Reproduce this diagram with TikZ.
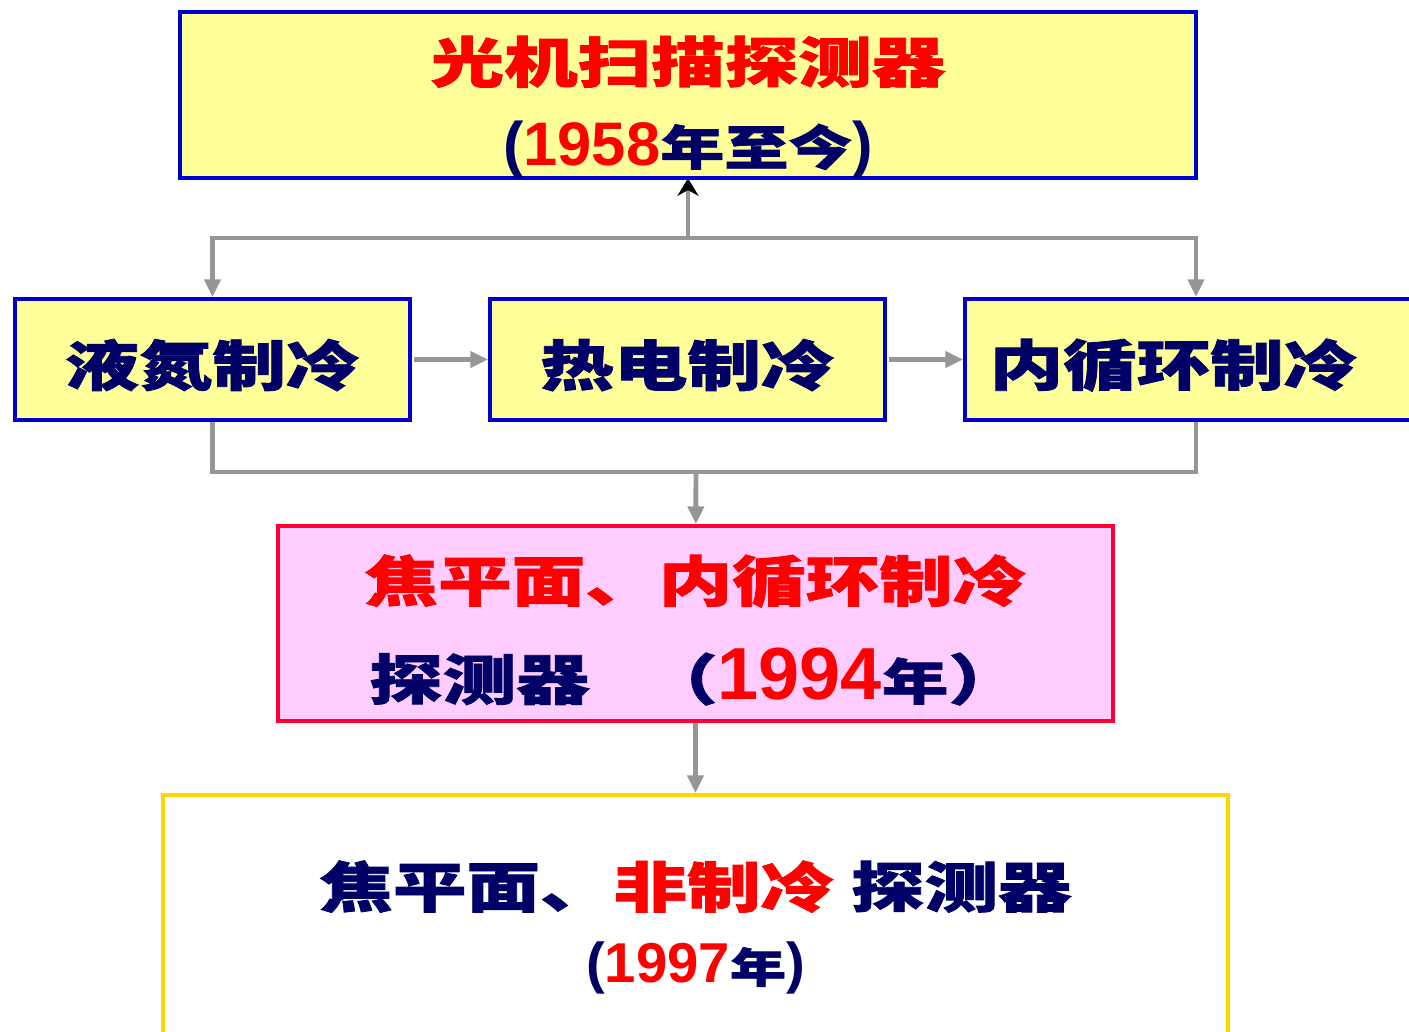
\documentclass[tikz,border=0pt]{standalone}
\usepackage{fontspec}
\usetikzlibrary{arrows.meta, positioning}
\newfontfamily\cjk[FakeStretch=1.35, BoldFeatures={FakeBold=1.5}]{Noto Sans CJK SC}
\newfontfamily\num{Liberation Sans}
\definecolor{navy}{HTML}{000066}
\definecolor{boxblue}{HTML}{0000CC}
\definecolor{paleyellow}{HTML}{FFFF99}
\definecolor{palepink}{HTML}{FFCCFF}
\definecolor{boxred}{HTML}{FF0033}
\definecolor{gold}{HTML}{FFD700}
\definecolor{linegray}{HTML}{969696}
\newcommand\rd[1]{{\color{red}#1}}
\newcommand\nv[1]{{\color{navy}#1}}
\newcommand\yr[2]{{\num\fontsize{#1}{#1}\selectfont\color{red}#2}}
\newcommand\hz[2]{{\fontsize{#1}{#1}\selectfont #2}}
\newcommand\lift[1]{\rule{0pt}{#1}}
\tikzset{%
	box/.style={
		line width=2.3pt,
		inner sep=0pt,
		align=center,
		text=navy,
		font=\cjk\bfseries\fontsize{31}{45}\selectfont
	},
	ybox/.style={box, draw=boxblue, fill=paleyellow, minimum height=2.42cm},
	pbox/.style={box, draw=boxred, fill=palepink},
	wbox/.style={box, draw=gold, fill=white},
	conn/.style={draw=linegray, line width=2.8pt},
}
\begin{document}
\begin{tikzpicture}[
			x=0.02cm, y=-0.02cm,
			>={Triangle[width=9pt,length=10pt,linegray]}
			]
			\useasboundingbox (0,0) rectangle (1409,1031);
			
			% Boxes
			\node[ybox, minimum width=20.32cm, minimum height=3.32cm] (scan) at (688,95)
				{\lift{40pt}\rd{光机扫描探测器}\\[2pt]
				{\num\fontsize{35}{35}\selectfont(}\yr{35}{1958}\hz{27}{年至今}{\num\fontsize{35}{35}\selectfont)}};
			\node[ybox, minimum width=7.9cm] (ln2) at (212.5,359.5) {\lift{33pt}液氮制冷};
			\node[ybox, minimum width=7.9cm] (te) at (687.5,359.5) {\lift{33pt}热电制冷};
			\node[ybox, minimum width=9.24cm] (cyc) at (1196,359.5) {\lift{33pt}内循环制冷\hspace*{0.9cm}};
			\node[pbox, minimum width=16.7cm, minimum height=3.9cm] (fpa) at (695.5,623.5)
				{\lift{34pt}\rd{焦平面、内循环制冷}\\[11pt]
				探测器\quad （\yr{42}{1994}\hz{28}{年}）};
			\node[wbox, minimum width=21.3cm, minimum height=5.3cm] (uncool) at (695.5,927.5)
				{焦平面、\rd{非制冷} 探测器\\[-2pt]
				{\num\fontsize{32}{32}\selectfont(}\yr{32}{1997}\hz{23.6}{年}{\num\fontsize{32}{32}\selectfont)}};
			
			% Connectors
			\coordinate (split) at (688,238);
			\coordinate (merge) at (696,472);
			\draw[conn, -{Stealth[black,width=12pt,length=10pt]}, shorten >=-1pt] (split) -- (scan);
			\draw[conn, ->] (split) -| (ln2);
			\draw[conn, ->] (split) -| (cyc);
			\draw[conn, ->, shorten <=1pt] (ln2) -- (te);
			\draw[conn, ->, shorten <=1pt] (te) -- (cyc);
			\draw[conn] (ln2) |- (merge) -| (cyc);
			\draw[conn, ->] (merge) -- (fpa);
			\draw[conn, ->] (fpa) -- (uncool);
			
		\end{tikzpicture}
\end{document}
